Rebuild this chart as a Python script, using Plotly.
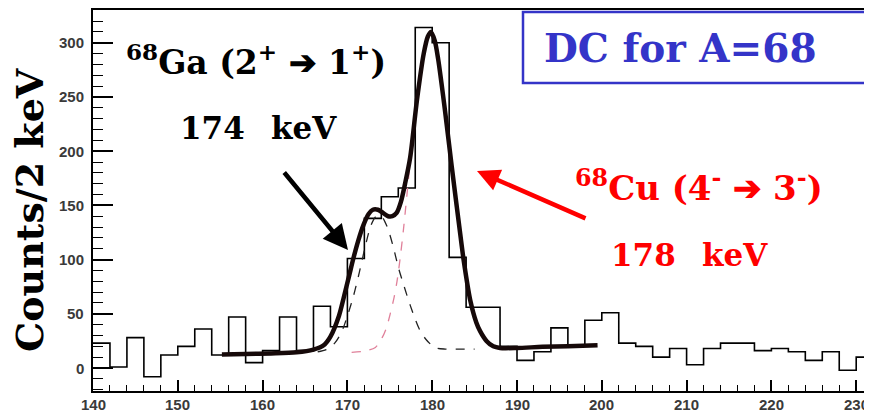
import plotly.graph_objects as go

# ---------------- data ----------------
bin_width = 2
bin_lo = list(range(140, 232, 2))          # keV, lower bin edges
counts = [23, 1, 28, -8, 12, 20, 36, 12, 47, 5,
          16, 47, 16, 57, 38, 101, 138, 158, 166, 314,
          300, 102, 56, 56, 20, 7, 15, 37, 21, 44,
          51, 23, 20, 10, 18, 3, 18, 23, 23, 16,
          18, 15, 7, 15, -2, 10]

# total fit (thick line)
fit_x = [155.2, 158, 161, 164, 166, 167.2, 168.0, 169.0, 169.6, 170.2,
         170.7, 171.3, 171.9, 172.5, 173.0, 173.6, 174.2, 174.8, 175.3, 175.8,
         176.3, 176.8, 177.4, 178.2, 179.0, 179.5, 179.85, 180.3, 180.7, 181.5,
         182.3, 183.3, 183.7, 184.5, 185.2, 185.65, 186.4, 187.2, 188, 190,
         193, 196, 199.5]
fit_y = [12.5, 13, 13.5, 14.5, 17, 21, 29, 48, 66, 85,
         101, 118, 132, 142, 146, 146, 143, 140, 140, 143,
         153, 170, 194, 247, 290, 306, 310, 302, 285, 238,
         186, 124, 100, 62, 42, 34, 25, 20, 18.5, 18.5,
         19.5, 20, 21]

# 68Ga component (black dashed)
ga_x = [166.5, 167.5, 168.5, 169.3, 170.0, 170.7, 171.4, 172.1, 172.8, 173.4,
        174.0, 174.7, 175.4, 176.0, 176.7, 177.4, 178.0, 178.6, 179.2, 179.8,
        180.5, 181.5, 185.0]
ga_y = [15, 17, 23, 33, 48, 66, 88, 112, 132, 140,
        140, 130, 112, 93, 75, 58, 45, 34, 27, 22,
        18.5, 17.5, 17.5]

# 68Cu component (pink dashed)
cu_x = [170.5, 172.0, 173.3, 174.1, 174.6, 175.05, 175.5, 175.85, 176.2, 176.6,
        177.0, 177.5, 178.2, 179.0, 179.5, 179.85, 180.3, 180.7, 181.5, 182.3,
        183.3, 183.7, 184.5, 185.2, 186.4, 187.2, 188.5]
cu_y = [14.5, 15.5, 19, 28, 37, 50, 65, 80, 100, 127,
        158, 198, 248, 288, 304, 308, 301, 284, 237, 185,
        123, 99, 61, 41, 24, 19, 17]

x_ticks = [140, 150, 160, 170, 180, 190, 200, 210, 220, 230]
y_ticks = [0, 50, 100, 150, 200, 250, 300]

# ---------------- figure geometry ----------------
# the page body has an 8 px default margin, so the figure sits at (8, 8)
OFF = 8
W, H = 872, 413
L, R, T, B = 85, 0, 2, 30          # figure margins -> plot area at window x 93..880, y 10..391
PW, PH = W - L - R, H - T - B


def px(xw):          # window pixel x -> paper
    return (xw - OFF - L) / PW


def py(yw):          # window pixel y -> paper
    return (H - B - (yw - OFF)) / PH


step_x = bin_lo + [bin_lo[-1] + bin_width]
step_y = counts + [counts[-1]]

fig = go.Figure()
fig.add_trace(go.Scatter(x=step_x, y=step_y, mode="lines",
                         line=dict(color="black", width=1.6, shape="hv"),
                         hoverinfo="skip"))
fig.add_trace(go.Scatter(x=ga_x, y=ga_y, mode="lines",
                         line=dict(color="#222222", width=1.3, dash="dash",
                                   shape="spline", smoothing=0.8),
                         hoverinfo="skip"))
fig.add_trace(go.Scatter(x=cu_x, y=cu_y, mode="lines",
                         line=dict(color="#e0809a", width=1.3, dash="dash",
                                   shape="spline", smoothing=0.8),
                         hoverinfo="skip"))
fig.add_trace(go.Scatter(x=fit_x, y=fit_y, mode="lines",
                         line=dict(color="#160909", width=4.5,
                                   shape="spline", smoothing=0.8),
                         hoverinfo="skip"))

serif = "DejaVu Serif"
tickfont = dict(family="Liberation Sans", size=15, color="#3a3a3a", weight="bold")

fig.update_layout(
    width=W, height=H,
    margin=dict(l=L, r=R, t=T, b=B, pad=0),
    paper_bgcolor="white", plot_bgcolor="white",
    showlegend=False,
    xaxis=dict(range=[140, 140 + PW / 8.48], tickvals=x_ticks,
               ticks="inside", ticklen=11, tickwidth=1.5, tickcolor="black",
               minor=dict(ticks="inside", dtick=2, tick0=140, ticklen=6,
                          tickwidth=1.2, tickcolor="black", showgrid=False),
               showline=True, linewidth=2, linecolor="black", mirror=True,
               showgrid=False, zeroline=False, showticklabels=False),
    yaxis=dict(range=[-21.2, 330.2], tickvals=y_ticks,
               ticks="inside", ticklen=20, tickwidth=1.5, tickcolor="black",
               minor=dict(ticks="inside", dtick=10, tick0=0, ticklen=10,
                          tickwidth=1.2, tickcolor="black", showgrid=False),
               showline=True, linewidth=2, linecolor="black", mirror=False,
               showgrid=False, zeroline=False, showticklabels=False),
)

# tick labels placed through the axes' own scales
for v in x_ticks:
    fig.add_annotation(xref="x", yref="paper", x=v, y=0, yshift=-13,
                       text=str(v), showarrow=False, xanchor="center",
                       yanchor="middle", font=tickfont)
for v in y_ticks:
    fig.add_annotation(xref="paper", yref="y", x=0, y=v, xshift=-7,
                       text=str(v), showarrow=False, xanchor="right",
                       yanchor="middle", font=tickfont)

# title box
fig.add_shape(type="rect", xref="paper", yref="paper",
              x0=px(523), x1=px(895), y0=py(83), y1=py(12),
              line=dict(color="#3434c8", width=2.5), fillcolor="white", layer="above")

arrow = "\u2794"
ann = []
ann.append(dict(text="<b>DC for A=68</b>", x=px(680), y=py(48),
                font=dict(family=serif, size=39, color="#3434c8")))
ann.append(dict(text="<b><sup>68</sup>Ga (2<sup>+</sup> " + arrow + " 1<sup>+</sup>)</b>",
                x=px(256), y=py(60), font=dict(family=serif, size=33, color="black")))
ann.append(dict(text="<b>174 \u2002keV</b>", x=px(258), y=py(128),
                font=dict(family=serif, size=31, color="black")))
ann.append(dict(text="<b><sup>68</sup>Cu (4<sup>-</sup> " + arrow + " 3<sup>-</sup>)</b>",
                x=px(699), y=py(186), font=dict(family=serif, size=34, color="#ff0000")))
ann.append(dict(text="<b>178 \u2002keV</b>", x=px(689), y=py(255),
                font=dict(family=serif, size=31, color="#ff0000")))
ann.append(dict(text="<b>Counts/2 keV</b>", x=px(29), y=py(210), textangle=-90,
                font=dict(family=serif, size=38, color="black")))

for a in ann:
    a.update(xref="paper", yref="paper", showarrow=False,
             xanchor="center", yanchor="middle")
    fig.add_annotation(**a)

# arrows
fig.add_annotation(xref="paper", yref="paper", x=px(348), y=py(250), text="",
                   showarrow=True, ax=283 - 348, ay=171 - 250,
                   arrowhead=2, arrowsize=1.1, arrowwidth=4.5, arrowcolor="black")
fig.add_annotation(xref="paper", yref="paper", x=px(477), y=py(171), text="",
                   showarrow=True, ax=587 - 477, ay=219 - 171,
                   arrowhead=2, arrowsize=1.0, arrowwidth=4.5, arrowcolor="#ff0000")

fig.write_html("out.html")
